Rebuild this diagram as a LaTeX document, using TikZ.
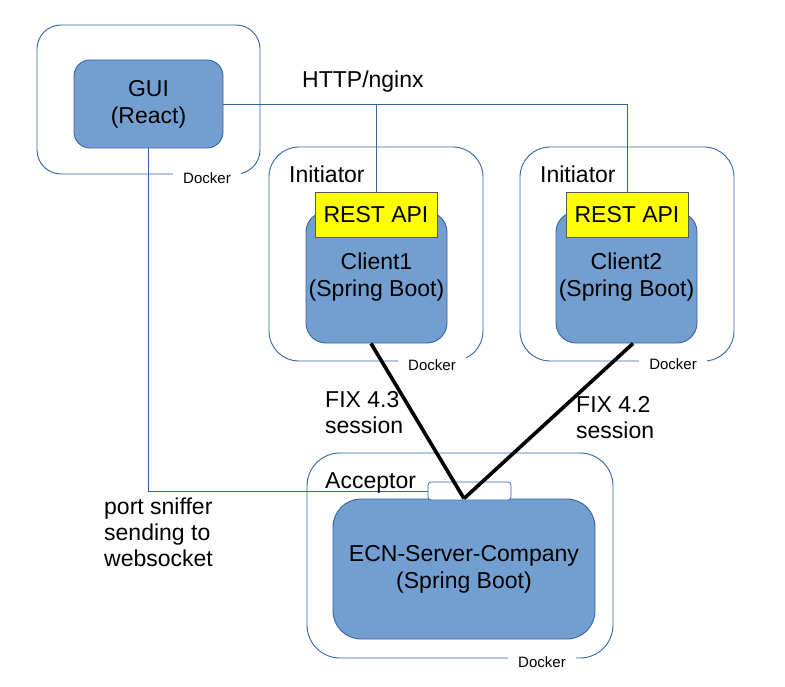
\documentclass[tikz,border=0pt]{standalone}
\usepackage{fontspec}
\setmainfont{Liberation Sans}
\definecolor{framec}{HTML}{3465A4}
\definecolor{boxfill}{HTML}{729FCF}
\definecolor{restfill}{HTML}{FFFF00}
\definecolor{restline}{HTML}{5A5A5A}
\tikzset{
  dockframe/.style={draw=framec, line width=0.9pt, rounded corners=24pt, inner sep=0pt, fill=white},
  appbox/.style={draw=framec, line width=0.9pt, fill=boxfill, rounded corners=18pt, inner sep=0pt, align=center, font=\fontsize{23}{27}\selectfont},
  restbox/.style={draw=restline, line width=0.8pt, fill=restfill, inner sep=0pt, font=\fontsize{23}{27}\selectfont},
  dockerlbl/.style={fill=white, inner xsep=10pt, inner ysep=3pt, font=\fontsize{15}{18}\selectfont},
  txt/.style={inner sep=0pt, align=left, font=\fontsize{23}{26}\selectfont},
  thinline/.style={draw=framec, line width=0.9pt},
  fixline/.style={draw=black, line width=3.6pt},
}
\begin{document}
\begin{tikzpicture}[x=1pt, y=-1pt]
\useasboundingbox (0,0) rectangle (785,687);
% docker frames
\node[dockframe, minimum width=223pt, minimum height=149pt] (guidock) at (148.5,99.5) {};
\node[dockframe, rounded corners=30pt, minimum width=214pt, minimum height=214pt] (c1dock) at (376,254) {};
\node[dockframe, rounded corners=30pt, minimum width=214pt, minimum height=214pt] (c2dock) at (627,254) {};
\node[dockframe, rounded corners=33pt, minimum width=306pt, minimum height=205pt] (srvdock) at (460,555.5) {};
% docker labels
\node[dockerlbl] (guidl) at (207,178) {Docker};
\node[dockerlbl] (c1dl) at (432,365) {Docker};
\node[dockerlbl] (c2dl) at (673,364) {Docker};
\node[dockerlbl] (srvdl) at (542,662) {Docker};
% application boxes
\node[appbox, rounded corners=16pt, minimum width=149pt, minimum height=88pt] (guibox) at (148.5,104) {GUI\\(React)};
\node[appbox, rounded corners=20pt, minimum width=141pt, minimum height=131pt] (c1box) at (376.5,277.5) {Client1\\(Spring Boot)};
\node[appbox, rounded corners=20pt, minimum width=141pt, minimum height=131pt] (c2box) at (626.5,277.5) {Client2\\(Spring Boot)};
\node[restbox, minimum width=122pt, minimum height=45pt] (rest1) at (376,214.5) {REST API};
\node[restbox, minimum width=122pt, minimum height=45pt] (rest2) at (627,214.5) {REST API};
\node[appbox, rounded corners=28pt, minimum width=262pt, minimum height=140pt] (srvbox) at (464,569) {ECN-Server-Company\\(Spring Boot)};
\node[draw=framec, line width=0.8pt, fill=white, rounded corners=3pt, minimum width=83pt, minimum height=18pt, inner sep=0pt] (port) at (469.5,491) {};
% thin connectors
\draw[thinline] (guibox.east) -- (rest2.north |- guibox.east) -- (rest2.north);
\draw[thinline] (rest1.north |- guibox.east) -- (rest1.north);
\draw[thinline] (guibox.south) -- (guibox.south |- port.west) -- (port.west);
% FIX sessions
\coordinate (fixa) at ([xshift=-5.5pt]c1box.south);
\coordinate (fixb) at ([xshift=6.5pt]c2box.south);
\draw[fixline] (fixa) -- (srvbox.north);
\draw[fixline] (fixb) -- (srvbox.north);
% labels
\node[txt, anchor=base west] (http) at (302,88) {HTTP/nginx};
\node[txt, anchor=base west] (init1) at (289,183) {Initiator};
\node[txt, anchor=base west] (init2) at (540,183) {Initiator};
\node[txt, anchor=base west] (acc) at (325,488) {Acceptor};
\node[txt, anchor=north west] (fix43) at (325,391.5) {FIX 4.3\\session};
\node[txt, anchor=north west] (fix42) at (576,396.5) {FIX 4.2\\session};
\node[txt, anchor=north west] (sniff) at (104,498) {port sniffer\\sending to\\websocket};
\end{tikzpicture}
\end{document}
